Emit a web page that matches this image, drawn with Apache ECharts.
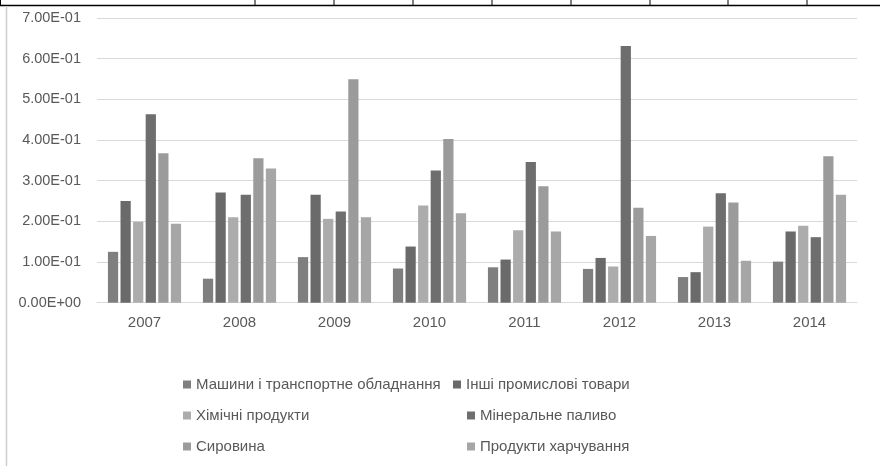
<!DOCTYPE html>
<html>
<head>
<meta charset="utf-8">
<script src="https://cdn.jsdelivr.net/npm/echarts@6/dist/echarts.min.js"></script>
<style>
html,body{margin:0;padding:0;background:#fff;}
#chart{width:880px;height:466px;}
</style>
</head>
<body>
<div id="chart"></div>
<script>
const years = ['2007','2008','2009','2010','2011','2012','2013','2014'];
const seriesNames = [
  'Машини і транспортне обладнання',
  'Інші промислові товари',
  'Хімічні продукти',
  'Мінеральне паливо',
  'Сировина',
  'Продукти харчування'
];
const machinery  = [0.125, 0.059, 0.112, 0.084, 0.087, 0.083, 0.063, 0.101];
const otherGoods = [0.250, 0.271, 0.265, 0.138, 0.106, 0.110, 0.075, 0.175];
const chemicals  = [0.199, 0.210, 0.206, 0.239, 0.178, 0.089, 0.187, 0.189];
const fuel       = [0.463, 0.265, 0.224, 0.325, 0.346, 0.631, 0.269, 0.161];
const rawMat     = [0.367, 0.355, 0.549, 0.402, 0.286, 0.233, 0.246, 0.360];
const food       = [0.194, 0.330, 0.210, 0.220, 0.175, 0.164, 0.103, 0.265];
const seriesValues = [machinery, otherGoods, chemicals, fuel, rawMat, food];
const colors = ['#7f7f7f', '#6a6a6a', '#acacac', '#6e6e6e', '#9b9b9b', '#a6a6a6'];

const FONT = 'Liberation Sans';
const TXT = '#595959';

function fmt(v) {
  if (Math.abs(v) < 1e-12) return '0.00E+00';
  let e = Math.floor(Math.log10(Math.abs(v)) + 1e-9);
  let m = v / Math.pow(10, e);
  return m.toFixed(2) + 'E' + (e < 0 ? '-' : '+') + String(Math.abs(e)).padStart(2, '0');
}

const legendPos = [
  {left: 183, top: 377},
  {left: 453, top: 377},
  {left: 183, top: 408},
  {left: 467, top: 408},
  {left: 183, top: 439},
  {left: 467, top: 439}
];

const chart = echarts.init(document.getElementById('chart'), null, {renderer: 'canvas'});
const option = {
  animation: false,
  backgroundColor: '#fff',
  color: colors,
  grid: {left: 97, right: 23, top: 17.8, bottom: 163.3, containLabel: false},
  legend: seriesNames.map((n, i) => ({
    data: [n],
    left: legendPos[i].left,
    top: legendPos[i].top,
    padding: 0,
    itemWidth: 8,
    itemHeight: 8,
    icon: 'rect',
    selectedMode: false,
    textStyle: {fontFamily: FONT, fontSize: 15, color: TXT}
  })),
  xAxis: {
    type: 'category',
    data: years,
    axisLine: {show: true, lineStyle: {color: '#d9d9d9', width: 1}},
    axisTick: {show: false},
    axisLabel: {fontFamily: FONT, fontSize: 15, color: TXT, margin: 13}
  },
  yAxis: {
    type: 'value',
    min: 0,
    max: 0.7,
    interval: 0.1,
    axisLine: {show: false},
    axisTick: {show: false},
    splitLine: {lineStyle: {color: '#d9d9d9', width: 1}},
    axisLabel: {fontFamily: FONT, fontSize: 14.5, color: TXT, margin: 16, formatter: fmt}
  },
  series: seriesNames.map((n, i) => ({
    name: n,
    type: 'bar',
    data: seriesValues[i],
    barGap: '23%',
    barCategoryGap: '23%',
    itemStyle: {color: colors[i]}
  })),
  graphic: [
    {type: 'line', shape: {x1: 0, y1: 5.5, x2: 880, y2: 5.5}, style: {stroke: '#000', lineWidth: 1.5}, silent: true},
    {type: 'line', shape: {x1: 6.5, y1: 6, x2: 6.5, y2: 466}, style: {stroke: '#cfcfcf', lineWidth: 1.5}, silent: true}
  ].concat([0.5, 255, 334, 413, 492, 571, 650, 728, 807].map(x => ({
    type: 'line', shape: {x1: x, y1: 0, x2: x, y2: 5.5}, style: {stroke: '#000', lineWidth: 1}, silent: true
  })))
};
chart.setOption(option);
</script>
</body>
</html>
